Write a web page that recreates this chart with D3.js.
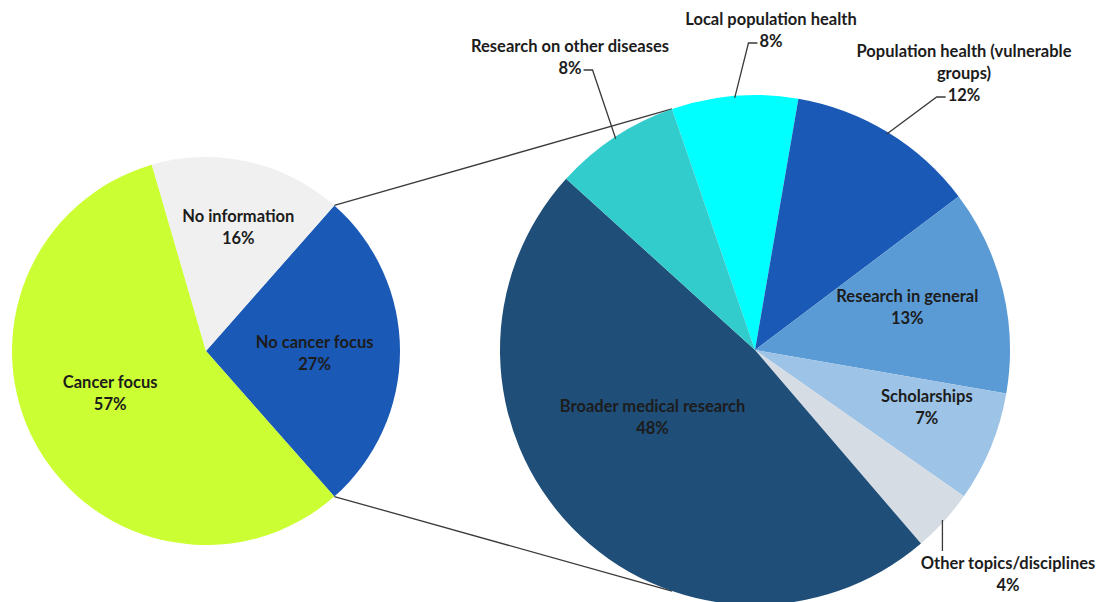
<!DOCTYPE html>
<html>
<head>
<meta charset="utf-8">
<script src="https://cdn.jsdelivr.net/npm/d3@7"></script>
<style>
  html, body { margin: 0; padding: 0; background: #ffffff; }
  svg text { font-family: Lato, "Open Sans", sans-serif; font-weight: 700; fill: #1c1c1c; }
</style>
</head>
<body>
<svg id="chart" width="1099" height="602"></svg>
<script>
// Primary pie: all funded topics
const mainCategories = ["No cancer focus", "Cancer focus", "No information"];
const mainValues = [27, 57, 16];
const mainColors = ["#1b59b6", "#ccff33", "#f0f0f0"];

// Secondary pie: breakdown of the "No cancer focus" share
const detailCategories = [
  "Local population health",
  "Population health (vulnerable groups)",
  "Research in general",
  "Scholarships",
  "Other topics/disciplines",
  "Broader medical research",
  "Research on other diseases"
];
const detailValues = [8, 12, 13, 7, 4, 48, 8];
const detailColors = ["#00ffff", "#1b59b6", "#5b9bd5", "#9dc3e6", "#d6dce4", "#1f4e79", "#33cccc"];

const deg = Math.PI / 180;
const svg = d3.select("#chart");
const FONT = 16.5, LINE = 22;

const mainPie = { cx: 206, cy: 351, r: 194 };
const detailPie = { cx: 755, cy: 350, r: 255 };

// Split slice centred on 3 o'clock
const mainStart = 90 * deg - (mainValues[0] / d3.sum(mainValues)) * Math.PI;
const detailStart = -19 * deg;

const mainArcs = d3.pie().sort(null).value(d => d)
  .startAngle(mainStart).endAngle(mainStart + 2 * Math.PI)(mainValues);
const detailArcs = d3.pie().sort(null).value(d => d)
  .startAngle(detailStart).endAngle(detailStart + 2 * Math.PI)(detailValues);

const polar = (p, a, r) => [p.cx + r * Math.sin(a), p.cy - r * Math.cos(a)];

// Connector lines between the split slice and the secondary pie
const split = mainArcs[0];
const connectors = [
  [polar(mainPie, split.startAngle, mainPie.r), polar(detailPie, detailStart, detailPie.r)],
  [polar(mainPie, split.endAngle, mainPie.r), polar(detailPie, Math.PI - detailStart, detailPie.r)]
];
svg.append("g").selectAll("line").data(connectors).join("line")
  .attr("x1", d => d[0][0]).attr("y1", d => d[0][1])
  .attr("x2", d => d[1][0]).attr("y2", d => d[1][1])
  .attr("stroke", "#3a3a3a").attr("stroke-width", 1.3);

function drawPie(p, arcs, colors) {
  const arc = d3.arc().innerRadius(0).outerRadius(p.r);
  svg.append("g").attr("transform", `translate(${p.cx},${p.cy})`)
    .selectAll("path").data(arcs).join("path")
    .attr("d", arc).attr("fill", (d, i) => colors[i]);
}
drawPie(mainPie, mainArcs, mainColors);
drawPie(detailPie, detailArcs, detailColors);

const pct = v => `${v}%`;
const mid = d => (d.startAngle + d.endAngle) / 2;

function textBlock(lines, x, y) {
  const t = svg.append("text").attr("text-anchor", "middle").attr("font-size", FONT);
  let last;
  lines.forEach((s, i) => {
    last = t.append("tspan").attr("x", x).attr("y", y + i * LINE).attr("dy", "0.35em").text(s);
  });
  return last.node().getComputedTextLength();
}

// Inside labels: radial distance (share of radius) and angular nudge
const insideLayout = {
  "No cancer focus": { k: 0.56, da: 1 },
  "Cancer focus": { k: 0.54, da: 5 },
  "No information": { k: 0.66, da: 2 },
  "Research in general": { k: 0.62, da: -2 },
  "Scholarships": { k: 0.71, da: -4 },
  "Broader medical research": { k: 0.48, da: 11 }
};
function insideLabels(p, arcs, cats) {
  arcs.forEach((d, i) => {
    const L = insideLayout[cats[i]];
    if (!L) return;
    const [x, y] = polar(p, mid(d) + L.da * deg, p.r * L.k);
    textBlock([cats[i], pct(d.data)], x, y - LINE / 2);
  });
}
insideLabels(mainPie, mainArcs, mainCategories);
insideLabels(detailPie, detailArcs, detailCategories);

// Callout labels outside the secondary pie
const calloutLayout = {
  "Local population health": { lines: ["Local population health"], tx: 771, ty: 19, side: "left" },
  "Population health (vulnerable groups)": { lines: ["Population health (vulnerable", "groups)"], tx: 964, ty: 51, side: "left" },
  "Research on other diseases": { lines: ["Research on other diseases"], tx: 570, ty: 46, side: "right" },
  "Other topics/disciplines": { lines: ["Other topics/disciplines"], tx: 1008, ty: 563, side: "top" }
};
detailArcs.forEach((d, i) => {
  const L = calloutLayout[detailCategories[i]];
  if (!L) return;
  const lines = L.lines.concat([pct(d.data)]);
  const w = textBlock(lines, L.tx, L.ty);
  const py = L.ty + (lines.length - 1) * LINE;
  const edge = polar(detailPie, mid(d), detailPie.r - 2);
  let pts;
  if (L.side === "left") {
    const x0 = L.tx - w / 2 - 2;
    pts = [[x0, py + 2], [x0 - 9, py + 2], edge];
  } else if (L.side === "right") {
    const x0 = L.tx + w / 2 + 2;
    pts = [[x0, py + 2], [x0 + 9, py + 2], edge];
  } else {
    pts = [[edge[0], L.ty - 12], edge];
  }
  svg.append("path").attr("d", d3.line()(pts))
    .attr("fill", "none").attr("stroke", "#3a3a3a").attr("stroke-width", 1.3);
});
</script>
</body>
</html>
